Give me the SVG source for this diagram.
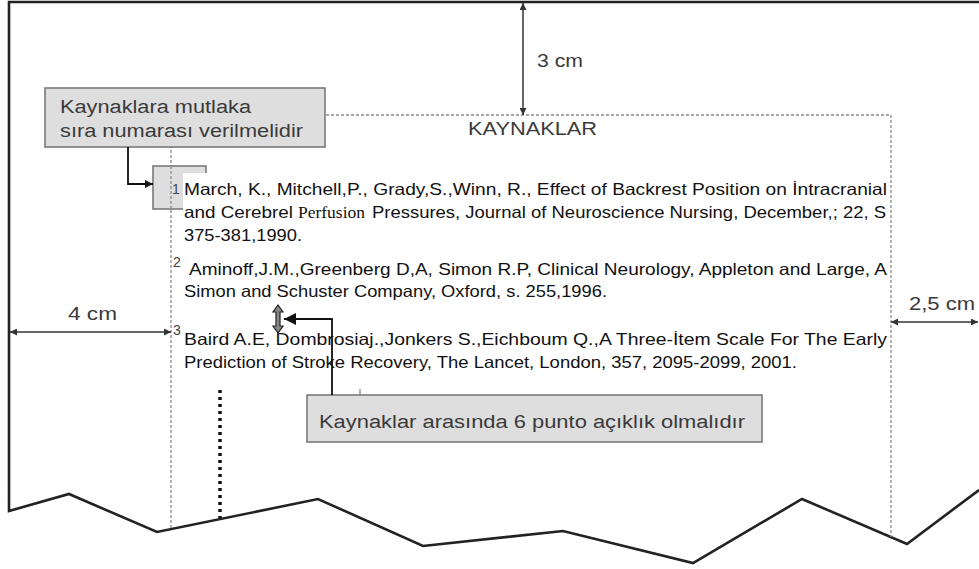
<svg xmlns="http://www.w3.org/2000/svg" width="979" height="569" viewBox="0 0 979 569">
<defs>
<style>
.lbl{font-family:"Liberation Sans",Arial,sans-serif;font-size:18px;fill:#3a3a3a}
.ref{font-family:"Liberation Sans",Arial,sans-serif;font-size:16.5px;fill:#111}
.refs{font-family:"Liberation Serif","Times New Roman",serif;font-size:17px;fill:#111}
.num{font-family:"Liberation Sans",Arial,sans-serif;font-size:14px;fill:#444}
.box{fill:#dedede;stroke:#7a7a7a;stroke-width:1.6}
.dash{fill:none;stroke:#8a8a8a;stroke-width:1.3;stroke-dasharray:3 2}
.dim{fill:none;stroke:#333;stroke-width:1.5}
.page{fill:none;stroke:#222;stroke-width:2.6;stroke-linejoin:miter}
.conn{fill:none;stroke:#111;stroke-width:1.8}
</style>
<marker id="dimHead" viewBox="0 0 10 10" refX="10" refY="5" markerWidth="10" markerHeight="7" markerUnits="userSpaceOnUse" orient="auto-start-reverse">
<path d="M0,0 L10,5 L0,10 Z" fill="#333"/>
</marker>
<marker id="callHead1" viewBox="0 0 10 10" refX="10" refY="5" markerWidth="12" markerHeight="8" markerUnits="userSpaceOnUse" orient="auto">
<path d="M0,0 L10,5 L0,10 Z" fill="#111"/>
</marker>
<marker id="callHead2" viewBox="0 0 10 10" refX="10" refY="5" markerWidth="15" markerHeight="12" markerUnits="userSpaceOnUse" orient="auto">
<path d="M0,0 L10,5 L0,10 Z" fill="#111"/>
</marker>
</defs>

<rect x="0" y="0" width="979" height="569" fill="#fff"/>

<g id="page">
<path class="page" d="M979,2 L9,2 L9,511 L69,494 L157,532 L318,499 L423,546 L563,531 L693,563 L802,499 L907,544 L979,490"/>
</g>

<g id="margins">
<line class="dash" x1="171" y1="115" x2="171" y2="529"/>
<line class="dash" x1="171" y1="115" x2="891" y2="115"/>
<line class="dash" x1="891" y1="115" x2="891" y2="537"/>
<line x1="220" y1="390" x2="220" y2="518" stroke="#111" stroke-width="3.5" stroke-dasharray="3 4"/>
<line x1="360" y1="389" x2="360" y2="396" stroke="#999" stroke-width="1.5"/>
</g>

<g id="marker-box">
<rect class="box" x="153" y="166" width="53" height="43"/>
<line class="dash" x1="171" y1="166" x2="171" y2="209"/>
<rect x="183" y="173" width="30" height="40" fill="#fff"/>
</g>

<g id="callout-numbering">
<rect class="box" x="45" y="88" width="280" height="59"/>
<text class="lbl" x="60" y="113" textLength="191" lengthAdjust="spacingAndGlyphs">Kaynaklara mutlaka</text>
<text class="lbl" x="60" y="137" textLength="243" lengthAdjust="spacingAndGlyphs">sıra numarası verilmelidir</text>
</g>

<g id="title">
<text class="lbl" x="468" y="135" textLength="129" lengthAdjust="spacingAndGlyphs">KAYNAKLAR</text>
</g>

<g id="dimension-top">
<line class="dim" x1="523" y1="3" x2="523" y2="115" marker-start="url(#dimHead)" marker-end="url(#dimHead)"/>
<text class="lbl" x="537" y="67" textLength="46" lengthAdjust="spacingAndGlyphs">3 cm</text>
</g>

<g id="dimension-left">
<line class="dim" x1="10" y1="332" x2="171" y2="332" marker-start="url(#dimHead)" marker-end="url(#dimHead)"/>
<text class="lbl" x="68" y="320" textLength="49" lengthAdjust="spacingAndGlyphs">4 cm</text>
</g>

<g id="dimension-right">
<line class="dim" x1="891" y1="322" x2="978" y2="322" marker-start="url(#dimHead)" marker-end="url(#dimHead)"/>
<text class="lbl" x="909" y="310" textLength="66" lengthAdjust="spacingAndGlyphs">2,5 cm</text>
</g>

<g id="reference-1">
<text class="num" x="172" y="194">1</text>
<text class="ref" x="184" y="195" textLength="703" lengthAdjust="spacingAndGlyphs">March, K., Mitchell,P., Grady,S.,Winn, R., Effect of Backrest Position on İntracranial</text>
<text class="ref" x="184" y="218" textLength="109" lengthAdjust="spacingAndGlyphs">and Cerebrel</text>
<text class="refs" x="298" y="218" textLength="67" lengthAdjust="spacingAndGlyphs">Perfusion</text>
<text class="ref" x="372" y="218" textLength="514" lengthAdjust="spacingAndGlyphs">Pressures, Journal of Neuroscience Nursing, December,; 22, S</text>
<text class="ref" x="184" y="241" textLength="118" lengthAdjust="spacingAndGlyphs">375-381,1990.</text>
</g>

<g id="reference-2">
<text class="num" x="173" y="267" font-size="15">2</text>
<text class="ref" x="189" y="275" textLength="698" lengthAdjust="spacingAndGlyphs">Aminoff,J.M.,Greenberg D,A, Simon R.P, Clinical Neurology, Appleton and Large, A</text>
<text class="ref" x="184" y="297" textLength="423" lengthAdjust="spacingAndGlyphs">Simon and Schuster Company, Oxford, s. 255,1996.</text>
</g>

<g id="reference-3">
<text class="num" x="173" y="335" font-size="15">3</text>
<text class="ref" x="184" y="345" textLength="703" lengthAdjust="spacingAndGlyphs">Baird A.E, Dombrosiaj.,Jonkers S.,Eichboum Q.,A Three-İtem Scale For The Early</text>
<text class="ref" x="184" y="368" textLength="613" lengthAdjust="spacingAndGlyphs">Prediction of Stroke Recovery, The Lancet, London, 357, 2095-2099, 2001.</text>
</g>

<g id="spacing-arrow">
<path d="M278,305 L283,312 L280,312 L280,326 L283,326 L278,333 L273,326 L276,326 L276,312 L273,312 Z" fill="#888" stroke="#222" stroke-width="1.2"/>
</g>

<g id="callout-spacing">
<rect class="box" x="307" y="395" width="455" height="47"/>
<text class="lbl" x="319" y="428" textLength="426" lengthAdjust="spacingAndGlyphs">Kaynaklar arasında 6 punto açıklık olmalıdır</text>
</g>

<g id="connectors">
<path class="conn" d="M128,147 L128,184 L153,184" marker-end="url(#callHead1)"/>
<path class="conn" d="M332,395 L332,319 L284,319" marker-end="url(#callHead2)"/>
</g>
</svg>
